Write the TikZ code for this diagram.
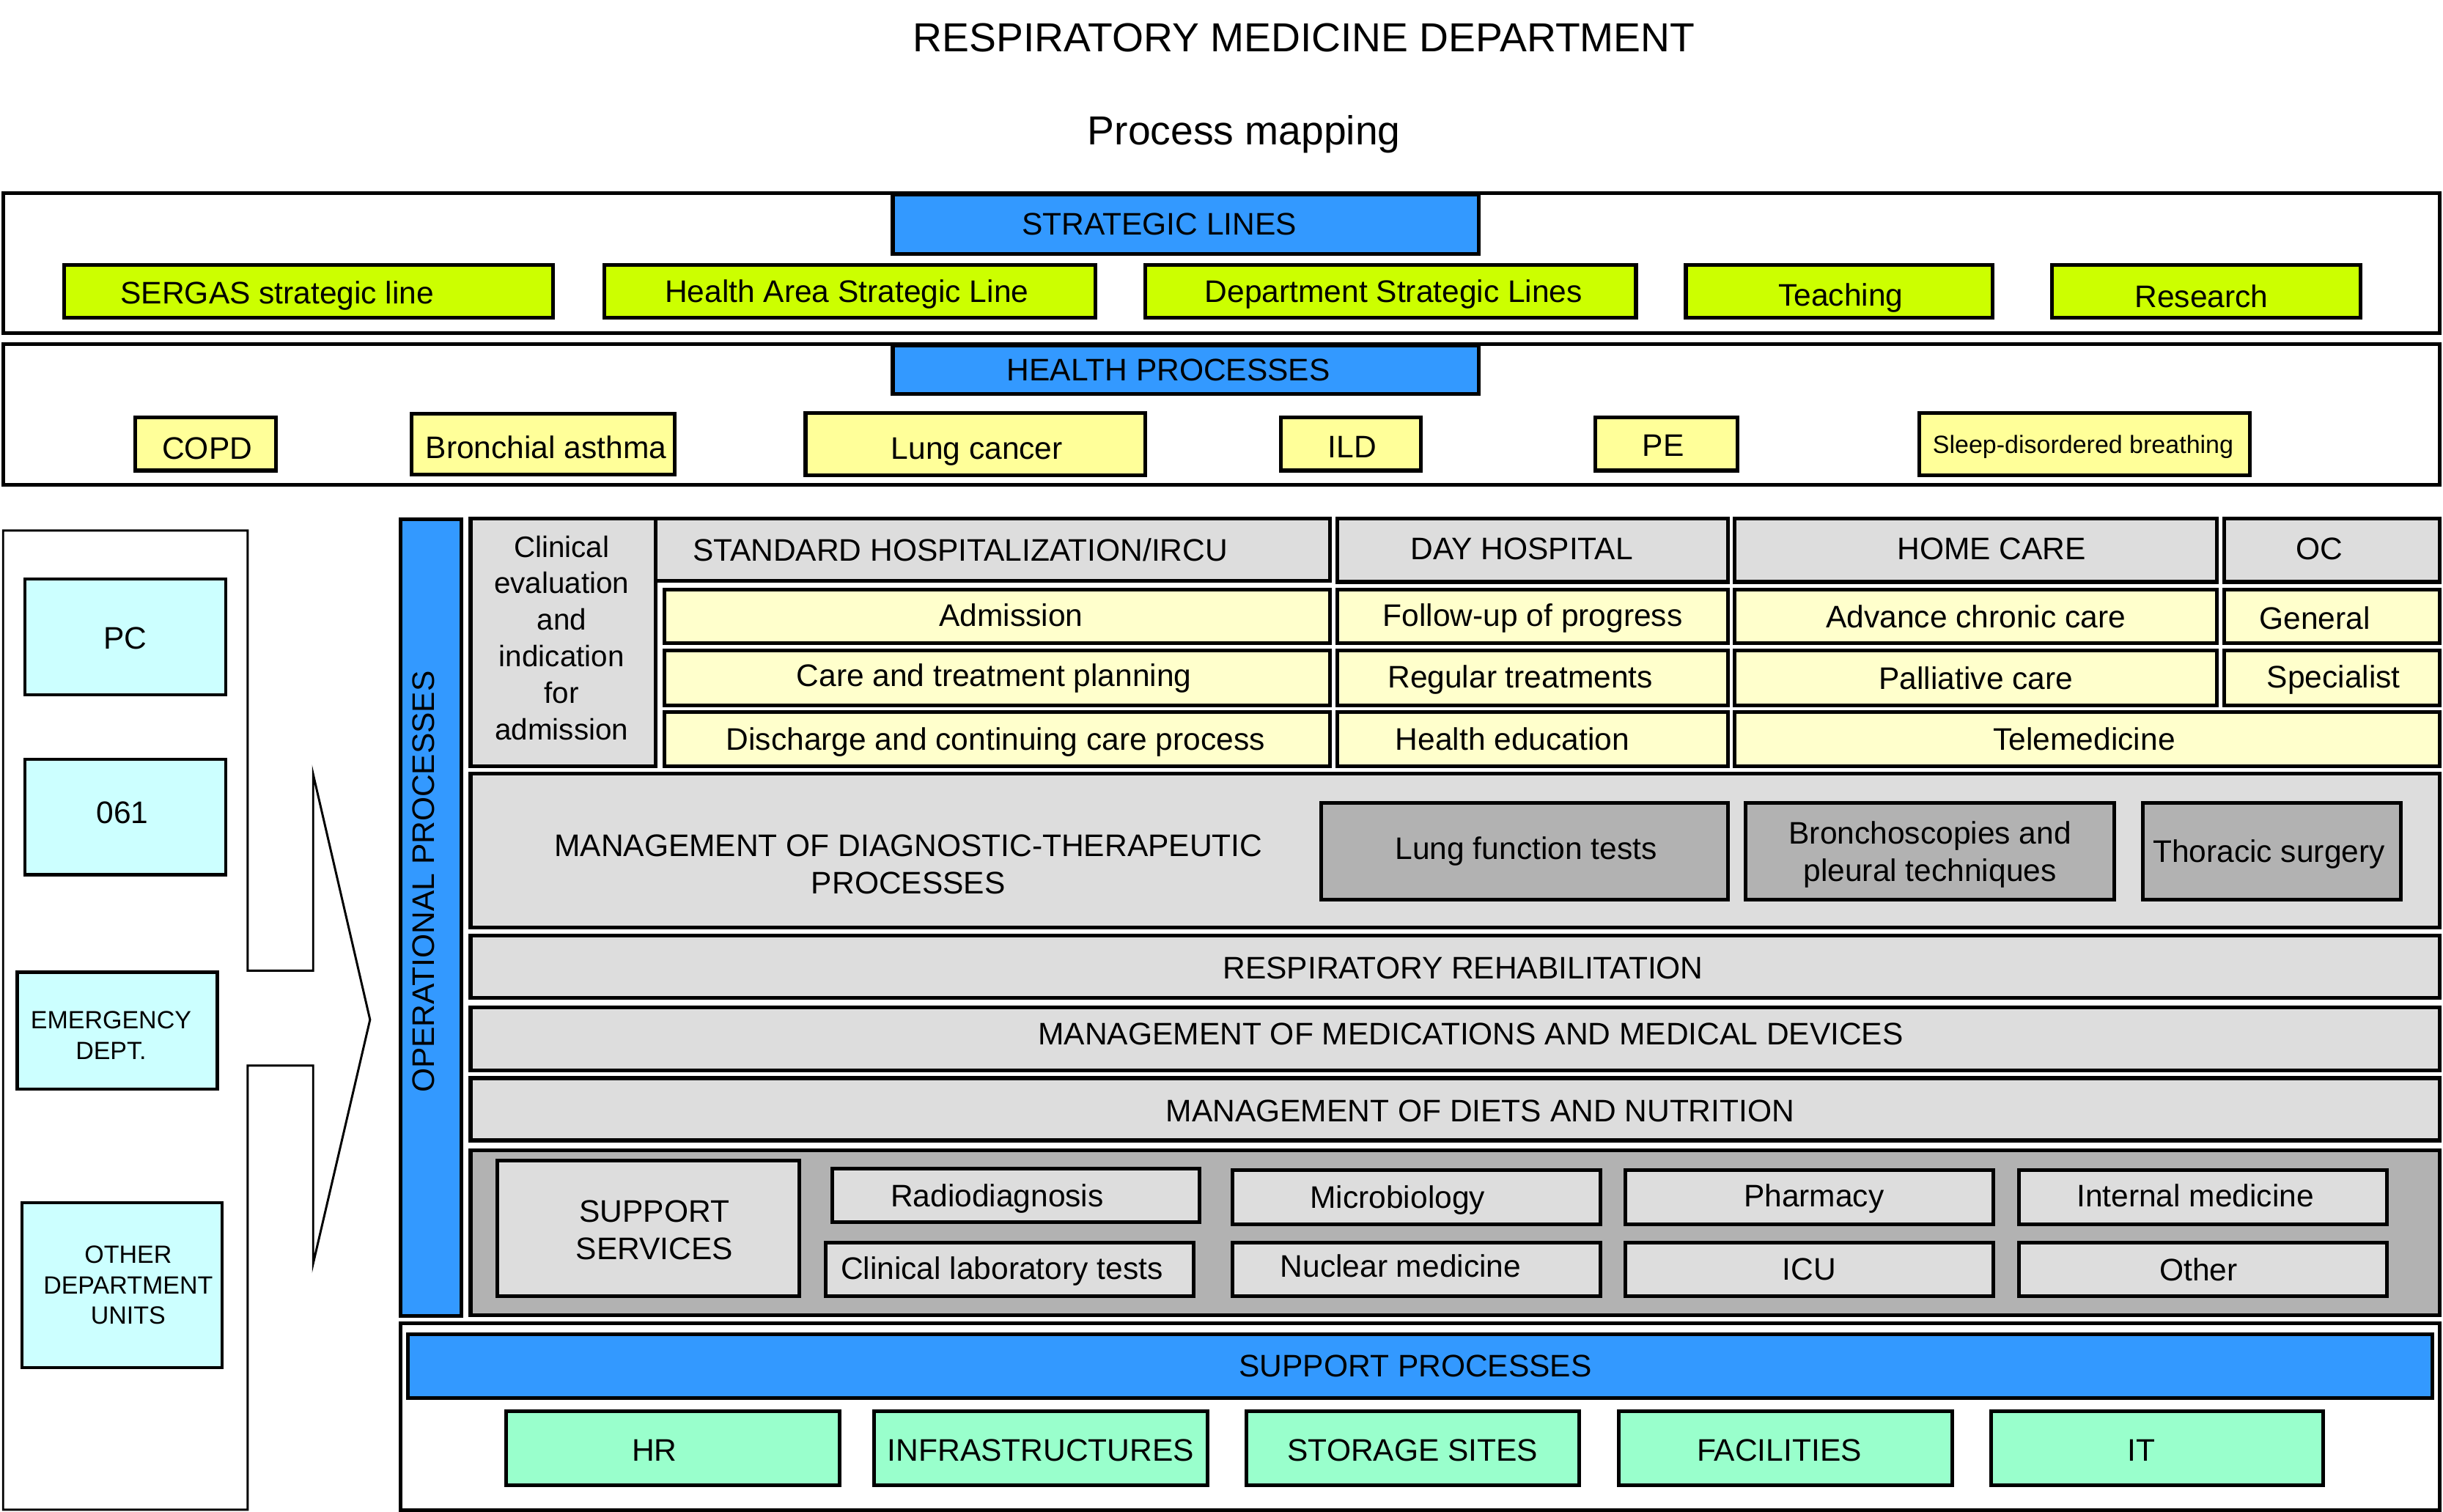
\documentclass[tikz,border=0pt]{standalone}
\usepackage{fontspec}
\setmainfont{Liberation Sans}
\definecolor{cblue}{HTML}{3399FF}
\definecolor{cgreen}{HTML}{CCFF00}
\definecolor{cyel}{HTML}{FFFF99}
\definecolor{cyelb}{HTML}{FFFFCC}
\definecolor{cgray}{HTML}{DDDDDD}
\definecolor{cdgray}{HTML}{B2B2B2}
\definecolor{ccyan}{HTML}{CCFFFF}
\definecolor{cmint}{HTML}{99FFCC}
\tikzset{
  boxst/.style={draw=black,line width=1.2pt,inner sep=0pt,outer sep=0pt},
  lbl/.style={inner sep=0pt,outer sep=0pt,align=center,font=\fontsize{10}{12}\selectfont},
}
% x1 y1 x2 y2 style name text dx dy
\newcommand\mybox[9]{%
  \node[boxst,#5,minimum width={(#3-#1)*0.5pt},minimum height={(#4-#2)*0.5pt}] (#6) at ({(#1+#3)/2},{(#2+#4)/2}) {};
  \node[lbl] (#6-t) at ({(#1+#3)/2+(#8)},{(#2+#4)/2+(#9)}) {#7};}
\begin{document}
\begin{tikzpicture}[x=0.5pt,y=-0.5pt]
\useasboundingbox (0,0) rectangle (1568,970.5);
% titles
\node[inner sep=0pt,anchor=base,font=\fontsize{13}{15}\selectfont] (title) at (837,33) {RESPIRATORY MEDICINE DEPARTMENT};
\node[inner sep=0pt,anchor=base,font=\fontsize{13}{15}\selectfont] (subtitle) at (798.5,93) {Process mapping};

% strategic lines
\mybox{2}{124}{1566}{214}{fill=white}{strat}{}{0}{0}
\mybox{573}{125}{949}{163}{fill=cblue}{stratH}{STRATEGIC LINES}{-17}{0}
\mybox{41}{170}{355}{204}{fill=cgreen}{sergas}{SERGAS strategic line}{-20}{3}
\mybox{388}{170}{703}{204}{fill=cgreen}{harea}{Health Area Strategic Line}{-2}{2}
\mybox{735}{170}{1050}{204}{fill=cgreen}{dept}{Department Strategic Lines}{2}{2}
\mybox{1082}{170}{1279}{204}{fill=cgreen}{teach}{Teaching}{1}{4}
\mybox{1317}{170}{1515}{204}{fill=cgreen}{research}{Research}{-3}{3}

% health processes
\mybox{2}{221}{1566}{311}{fill=white}{health}{}{0}{0}
\mybox{573}{222}{949}{253}{fill=cblue}{healthH}{HEALTH PROCESSES}{-11}{0}
\mybox{87}{268}{177}{302}{fill=cyel}{copd}{COPD}{1}{3}
\mybox{264}{265.5}{433}{304.5}{fill=cyel}{asthma}{Bronchial asthma}{2}{2}
\mybox{517}{265}{735}{305}{fill=cyel}{lungca}{Lung cancer}{1}{5}
\mybox{822}{268}{912}{302}{fill=cyel}{ild}{ILD}{1}{2}
\mybox{1024}{268}{1115}{302}{fill=cyel}{pe}{PE}{-2}{1}
\begin{scope}[lbl/.append style={font=\fontsize{8}{10}\selectfont}]
\mybox{1232}{265}{1444}{305}{fill=cyel}{sleep}{Sleep-disordered breathing}{-1}{2}
\end{scope}

% left panel with arrow
\draw[line width=0.7pt,line join=miter] (2,340.5) -- (159,340.5) -- (159,623) -- (201,623) -- (201,497) -- (237.5,654.5) -- (201,811) -- (201,684) -- (159,684) -- (159,969) -- (2,969) -- cycle;
\begin{scope}[boxst/.append style={line width=1pt}]
\mybox{16}{371.5}{145}{446}{fill=ccyan}{pc}{PC}{0}{1}
\mybox{16}{487.5}{145}{561.5}{fill=ccyan}{o61}{061}{-2}{-3}
\begin{scope}[lbl/.append style={font=\fontsize{8}{10}\selectfont}]
\mybox{11}{624}{139.5}{699}{fill=ccyan}{emerg}{EMERGENCY\\DEPT.}{-4}{3}
\end{scope}
\begin{scope}[lbl/.append style={font=\fontsize{8}{9.75}\selectfont}]
\mybox{14}{772}{142.5}{878}{fill=ccyan}{other}{OTHER\\DEPARTMENT\\UNITS}{4}{0}
\end{scope}
\end{scope}

% operational processes bar
\node[boxst,fill=cblue,minimum width={39*0.5pt},minimum height={511*0.5pt}] (opbar) at (276.5,589) {};
\node[lbl,rotate=90] (opbar-t) at (272,566) {OPERATIONAL PROCESSES};

% clinical evaluation
\begin{scope}[lbl/.append style={font=\fontsize{9.5}{11.75}\selectfont}]
\mybox{302}{333}{421}{492}{fill=cgray}{clin}{Clinical\\evaluation\\and\\indication\\for\\admission}{-1}{-3}
\end{scope}

% hospitalization columns
\mybox{421}{333}{853.5}{373}{fill=cgray}{std}{STANDARD HOSPITALIZATION/IRCU}{-21}{0}
\mybox{426.5}{378.5}{853.5}{413}{fill=cyelb}{adm}{Admission}{9}{-1}
\mybox{426.5}{417.5}{853.5}{453}{fill=cyelb}{care}{Care and treatment planning}{-2}{0}
\mybox{426.5}{457}{853.5}{492}{fill=cyelb}{disch}{Discharge and continuing care process}{-1}{2}

\mybox{858.5}{333}{1109}{373.5}{fill=cgray}{day}{DAY HOSPITAL}{-7}{-1}
\mybox{858.5}{378.5}{1109}{413}{fill=cyelb}{follow}{Follow-up of progress}{0}{1}
\mybox{858.5}{417.5}{1109}{453}{fill=cyelb}{regular}{Regular treatments}{-8}{1}
\mybox{858.5}{457}{1109}{492}{fill=cyelb}{hedu}{Health education}{-13}{0}

\mybox{1113.5}{333}{1423}{373.5}{fill=cgray}{home}{HOME CARE}{10}{-1}
\mybox{1113.5}{378.5}{1423}{413}{fill=cyelb}{adv}{Advance chronic care}{0}{0}
\mybox{1113.5}{417.5}{1423}{453}{fill=cyelb}{pall}{Palliative care}{0}{0}
\mybox{1113.5}{457}{1566}{492}{fill=cyelb}{tele}{Telemedicine}{-2}{0}

\mybox{1427.5}{333}{1566}{373.5}{fill=cgray}{oc}{OC}{-8}{-1}
\mybox{1427.5}{378.5}{1566}{413}{fill=cyelb}{gen}{General}{-11}{1}
\mybox{1427.5}{417.5}{1566}{453}{fill=cyelb}{spec}{Specialist}{1}{1}

% diagnostic-therapeutic
\mybox{302}{496.5}{1566}{595.5}{fill=cgray}{diag}{MANAGEMENT OF DIAGNOSTIC-THERAPEUTIC\\PROCESSES}{-351}{9}
\mybox{848}{515.5}{1109}{577.5}{fill=cdgray}{lft}{Lung function tests}{1}{0}
\mybox{1120.5}{515.5}{1357}{577.5}{fill=cdgray}{bronch}{Bronchoscopies and\\pleural techniques}{0}{2}
\mybox{1375.5}{515.5}{1541}{577.5}{fill=cdgray}{thor}{Thoracic surgery}{-2}{2}

\mybox{302}{600.5}{1566}{640.5}{fill=cgray}{rehab}{RESPIRATORY REHABILITATION}{5}{1}
\mybox{302}{646.5}{1566}{687}{fill=cgray}{meds}{MANAGEMENT OF MEDICATIONS AND MEDICAL DEVICES}{10}{-3}
\mybox{302}{692}{1566}{732}{fill=cgray}{diets}{MANAGEMENT OF DIETS AND NUTRITION}{16}{1}

% support services
\mybox{302}{738.5}{1566}{844}{fill=cdgray}{supp}{}{0}{0}
\mybox{319}{745}{513}{832}{fill=cgray}{suppS}{SUPPORT\\SERVICES}{4}{1}
\mybox{534}{750}{770}{784.5}{fill=cgray}{radio}{Radiodiagnosis}{-12}{2}
\mybox{530}{797.5}{766}{832}{fill=cgray}{clinlab}{Clinical laboratory tests}{-5}{1}
\mybox{791}{751}{1027}{786}{fill=cgray}{micro}{Microbiology}{-12}{2}
\mybox{791}{797.5}{1027}{832}{fill=cgray}{nuc}{Nuclear medicine}{-10}{-2}
\mybox{1043}{751}{1279.5}{786}{fill=cgray}{pharm}{Pharmacy}{3}{1}
\mybox{1043}{797.5}{1279.5}{832}{fill=cgray}{icu}{ICU}{0}{0}
\mybox{1296}{751}{1532}{786}{fill=cgray}{intmed}{Internal medicine}{-5}{-1}
\mybox{1296}{797.5}{1532}{832}{fill=cgray}{oth}{Other}{-3}{0}

% support processes
\mybox{257}{849.5}{1566}{969.5}{fill=white}{suppP}{}{0}{0}
\mybox{262}{856.5}{1561}{897.5}{fill=cblue}{suppPH}{SUPPORT PROCESSES}{-3}{0}
\mybox{325}{906}{539}{953.5}{fill=cmint}{hr}{HR}{-12}{1}
\mybox{561}{906}{775}{953.5}{fill=cmint}{infra}{INFRASTRUCTURES}{0}{1}
\mybox{800}{906}{1013.5}{953.5}{fill=cmint}{storage}{STORAGE SITES}{0}{1}
\mybox{1039}{906}{1253}{953.5}{fill=cmint}{facil}{FACILITIES}{-4}{1}
\mybox{1278}{906}{1491}{953.5}{fill=cmint}{it}{IT}{-10}{1}
\end{tikzpicture}
\end{document}
